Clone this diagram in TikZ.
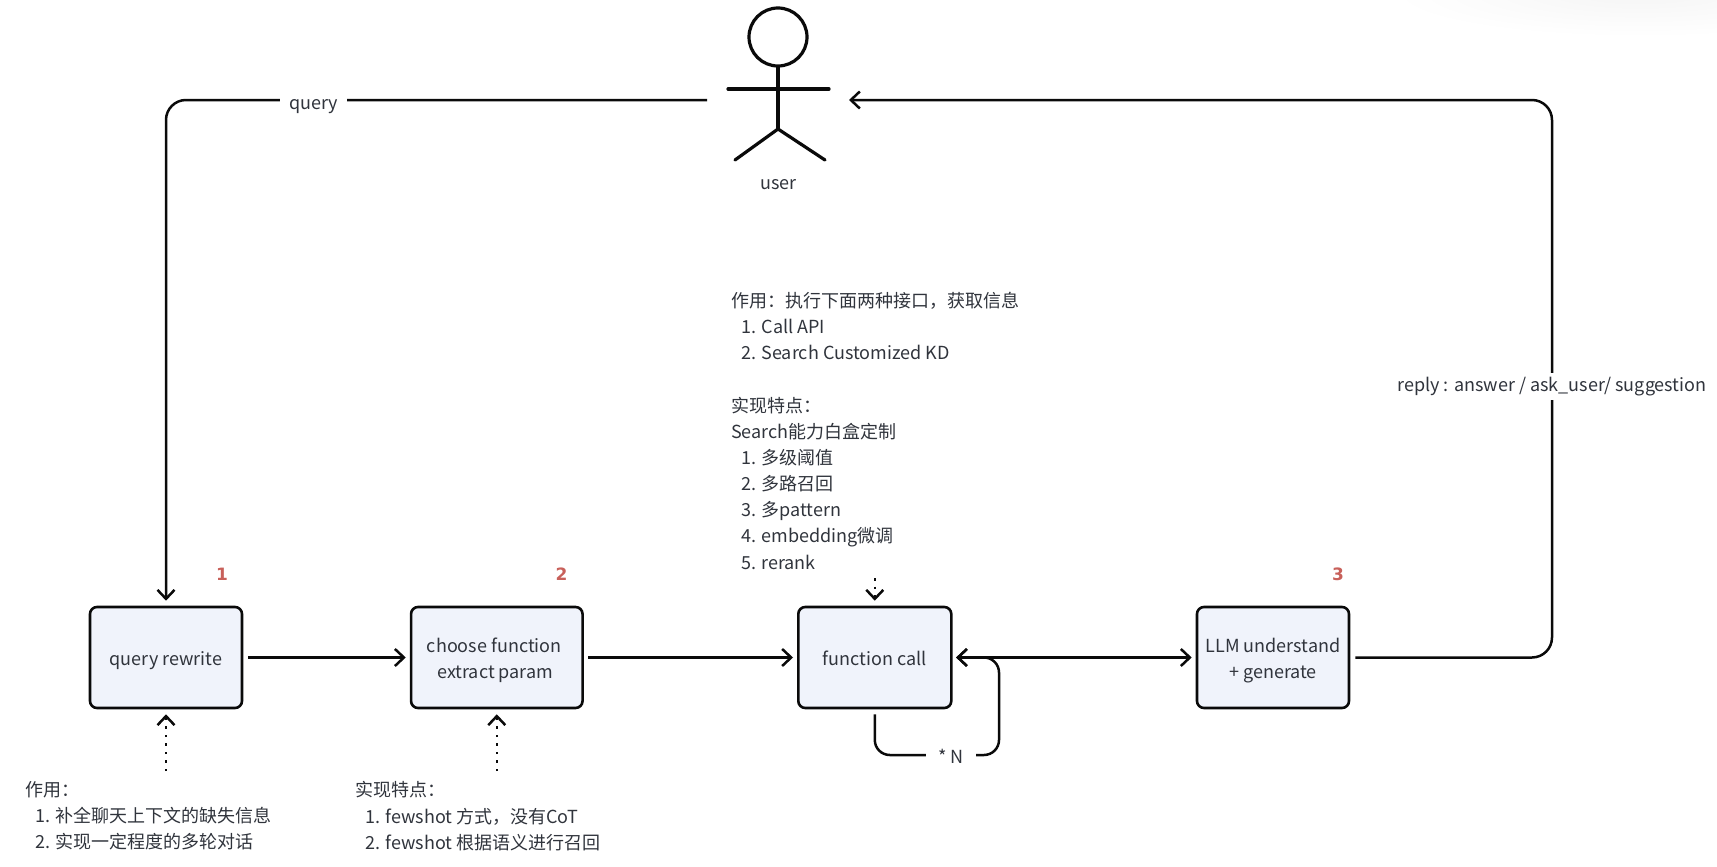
\documentclass[tikz,border=0pt]{standalone}
\usepackage{fontspec}
\usetikzlibrary{arrows.meta}
\setmainfont{Noto Sans CJK SC}
\newfontfamily\numfont{DejaVu Sans}
\definecolor{ink}{HTML}{0A0A0A}
\definecolor{txt}{HTML}{30343C}
\definecolor{boxfill}{HTML}{F0F3FB}
\definecolor{rednum}{HTML}{C8605A}
\tikzset{
  box/.style={draw=ink,fill=boxfill,line width=2.6pt,rounded corners=7pt,inner sep=0pt,align=center,text=txt,font=\fontsize{18pt}{26.2pt}\selectfont},
  conn/.style={draw=ink,line width=2.5pt,-{Straight Barb[length=9pt,width=17pt,line width=2.5pt]}},
  dotconn/.style={draw=ink,line width=2.5pt,dash pattern=on 2.5pt off 6pt,-{Straight Barb[length=9pt,width=17pt,line width=2.5pt]}},
  lab/.style={fill=white,text=txt,inner xsep=9pt,inner ysep=2pt,font=\fontsize{18pt}{26.2pt}\selectfont},
  note/.style={text=txt,inner sep=0pt,align=left,anchor=north west,font=\fontsize{18pt}{26.15pt}\selectfont},
  num/.style={text=rednum,inner sep=0pt,font=\numfont\bfseries\fontsize{17pt}{22pt}\selectfont},
  limb/.style={draw=ink,line width=3.2pt,line cap=round}
}
\newcommand{\ind}{\hspace*{10pt}}
\newcommand{\dnt}[2]{\raisebox{-#1}[\height][\depth]{#2}}
\begin{document}
\begin{tikzpicture}[x=1pt,y=-1pt]
\useasboundingbox (0,0) rectangle (1717,867);
\shade[inner color=black!4,outer color=white] (1640,-8) ellipse [x radius=250,y radius=45];
% user
\node[circle,draw=ink,line width=3.2pt,minimum size=58pt,inner sep=0pt] (head) at (778,37) {};
\coordinate (hip) at (778,129);
\coordinate (armL) at (728,89);
\coordinate (armR) at (829,89);
\coordinate (legL) at (735,160);
\coordinate (legR) at (825,160);
\draw[limb] (head.south) -- (hip);
\draw[limb] (armL) -- (armR);
\draw[limb] (legL) -- (hip) -- (legR);
\node[text=txt,inner sep=0pt,font=\fontsize{18pt}{22pt}\selectfont] (userlab) at (778.5,185) {user};
% boxes
\node[box,minimum width=152pt,minimum height=101pt] (q) at (166,657.5) {\dnt{3.3pt}{query rewrite}};
\node[box,minimum width=171.5pt,minimum height=101pt] (cf) at (496.8,657.5) {\dnt{3pt}{\hspace*{-5pt}choose function}\\\dnt{2.4pt}{\hspace*{-3pt}extract param}};
\node[box,minimum width=153pt,minimum height=101pt] (fc) at (874.8,657.5) {\dnt{0.6pt}{function call}};
\node[box,minimum width=152pt,minimum height=101pt] (llm) at (1273,657.5) {\dnt{3.3pt}{LLM understand}\\\dnt{3.3pt}{+ generate}};
% numbers
\node[num] (n1) at (222,574) {1};
\node[num] (n2) at (561.5,574) {2};
\node[num] (n3) at (1338,574) {3};
% main connectors
\draw[conn,shorten <=5pt,shorten >=4pt] (q.east) -- (cf.west);
\draw[conn,shorten <=4.5pt,shorten >=4pt] (cf.east) -- (fc.west);
\coordinate (usrR) at (849,100);
\coordinate (usrL) at (707,100);
\coordinate (rc) at (1552,100);
\coordinate (rd) at (1552,657.5);
\draw[conn,rounded corners=20pt,shorten <=5pt] (llm.east) -- (rd) -- (rc) -- (usrR);
\node[lab,inner xsep=3pt,inner ysep=4pt] (replylab) at (1552,386.5) {reply : answer / ask\_user/ suggestion};
\coordinate (qc) at (166,100);
\draw[conn,rounded corners=20pt,shorten >=5pt] (usrL) -- (qc) -- (q.north);
\node[lab] (querylab) at (313.5,104) {\rule{0pt}{16pt}query};
% loop
\coordinate (lb) at (874.8,755);
\coordinate (lr) at (999,755);
\coordinate (lt) at (999,657.5);
\draw[conn,rounded corners=15pt,shorten <=5pt,shorten >=3.5pt] (fc.south) -- (lb) -- (lr) -- (lt) -- (fc.east);
\draw[conn,{Straight Barb[length=9pt,width=17pt,line width=2.5pt]}-{Straight Barb[length=9pt,width=17pt,line width=2.5pt]},shorten <=3.5pt,shorten >=4pt] (fc.east) -- (llm.west);
\node[lab,inner xsep=12pt] (nlab) at (951,756) {* N};
% dotted inputs
\coordinate (d1) at (166,771);
\coordinate (d2) at (496.8,771);
\coordinate (d3) at (874.8,578);
\draw[dotconn,shorten >=5pt] (d1) -- (q.south);
\draw[dotconn,shorten >=5pt] (d2) -- (cf.south);
\draw[dotconn,shorten >=5pt] (d3) -- (fc.north);
% notes
\node[note] (note1) at (25,781.4) {作用：\\\ind 1. 补全聊天上下文的缺失信息\\\ind 2. 实现一定程度的多轮对话};
\node[note] (note2) at (355,781.4) {实现特点：\\\ind 1. fewshot 方式，没有CoT\\\ind 2. fewshot 根据语义进行召回};
\node[note] (note3) at (731,292) {作用：执行下面两种接口，获取信息\\\ind 1. Call API\\\ind 2. Search Customized KD\\~\\实现特点：\\Search能力白盒定制\\\ind 1. 多级阈值\\\ind 2. 多路召回\\\ind 3. 多pattern\\\ind 4. embedding微调\\\ind 5. rerank};
\end{tikzpicture}
\end{document}
